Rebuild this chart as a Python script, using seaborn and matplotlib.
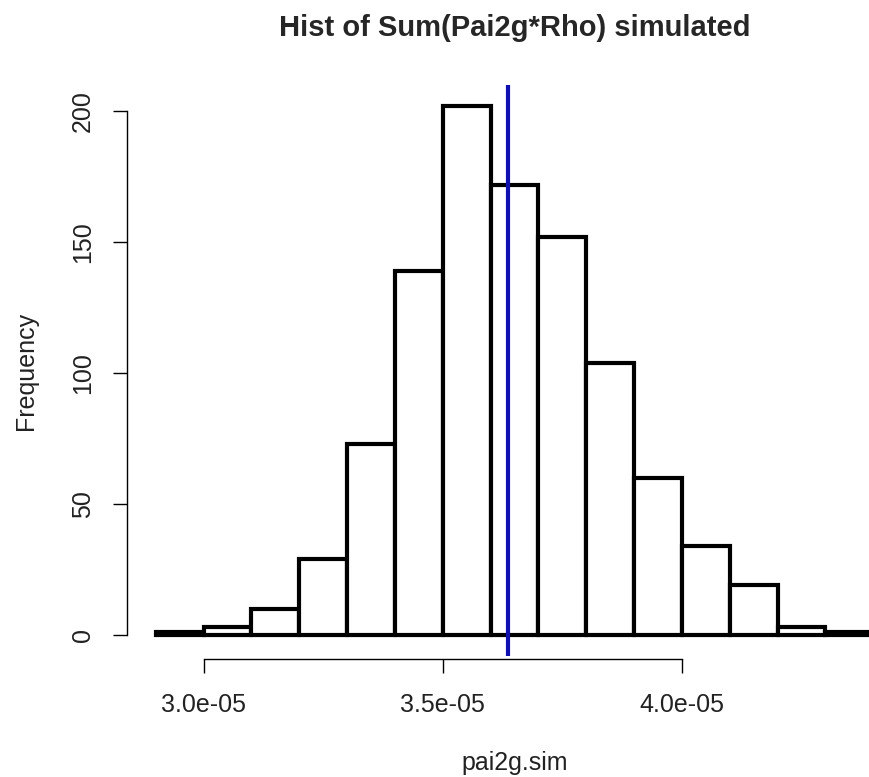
import numpy as np
import matplotlib
matplotlib.use("Agg")
import matplotlib.pyplot as plt
import seaborn as sns

# histogram (R-style hist of pai2g.sim)
bin_edges = [2.9e-05, 3.0e-05, 3.1e-05, 3.2e-05, 3.3e-05, 3.4e-05, 3.5e-05, 3.6e-05,
             3.7e-05, 3.8e-05, 3.9e-05, 4.0e-05, 4.1e-05, 4.2e-05, 4.3e-05, 4.4e-05]
counts = [1, 3, 10, 29, 73, 139, 202, 172, 152, 104, 60, 34, 19, 3, 1]
mean_line = 3.636e-05
x_ticks = [3.0e-05, 3.5e-05, 4.0e-05]
x_tick_labels = ["3.0e-05", "3.5e-05", "4.0e-05"]
y_ticks = [0, 50, 100, 150, 200]

centers = [(a + b) / 2 for a, b in zip(bin_edges[:-1], bin_edges[1:])]

sns.set_style("white")
plt.rcParams['font.family'] = ['Liberation Sans', 'DejaVu Sans']

fig = plt.figure(figsize=(8.7, 7.77), dpi=100)
# plot region runs past the right edge (the original image is cropped)
ax = fig.add_axes([127 / 870, (777 - 656) / 777, 775 / 870, 571 / 777])

sns.histplot(x=centers, weights=counts, bins=bin_edges, ax=ax,
             color="white", edgecolor="black", linewidth=3, alpha=1)
ax.axvline(mean_line, color="#1010b0", linewidth=3)

ax.set_xlim(2.84e-05, 4.46e-05)
ax.set_ylim(-8.08, 210.08)

for s in ["top", "right"]:
    ax.spines[s].set_visible(False)
ax.spines["left"].set_bounds(0, 200)
ax.spines["bottom"].set_bounds(3.0e-05, 4.0e-05)
ax.spines["bottom"].set_position(("outward", 2))
for s in ["left", "bottom"]:
    ax.spines[s].set_color("black")
    ax.spines[s].set_linewidth(1)

ax.set_xticks(x_ticks)
ax.set_xticklabels(x_tick_labels)
ax.set_yticks(y_ticks)
ax.set_yticklabels([str(v) for v in y_ticks], rotation=90, va="center")
ax.tick_params(axis="both", direction="out", length=10, width=1, color="black",
               labelsize=18, left=True, bottom=True, labelcolor="#222222")
ax.tick_params(axis="x", pad=15)
ax.tick_params(axis="y", pad=13)

ax.set_xlabel("pai2g.sim", fontsize=18, labelpad=24, color="#222222")
ax.set_ylabel("Frequency", fontsize=18, labelpad=24, color="#222222")
fig.suptitle("Hist of Sum(Pai2g*Rho) simulated", fontsize=21, fontweight="bold",
             x=514.5 / 870, y=1 - 28 / 777, va="center")

fig.savefig("out.png", dpi=100, facecolor="white")
